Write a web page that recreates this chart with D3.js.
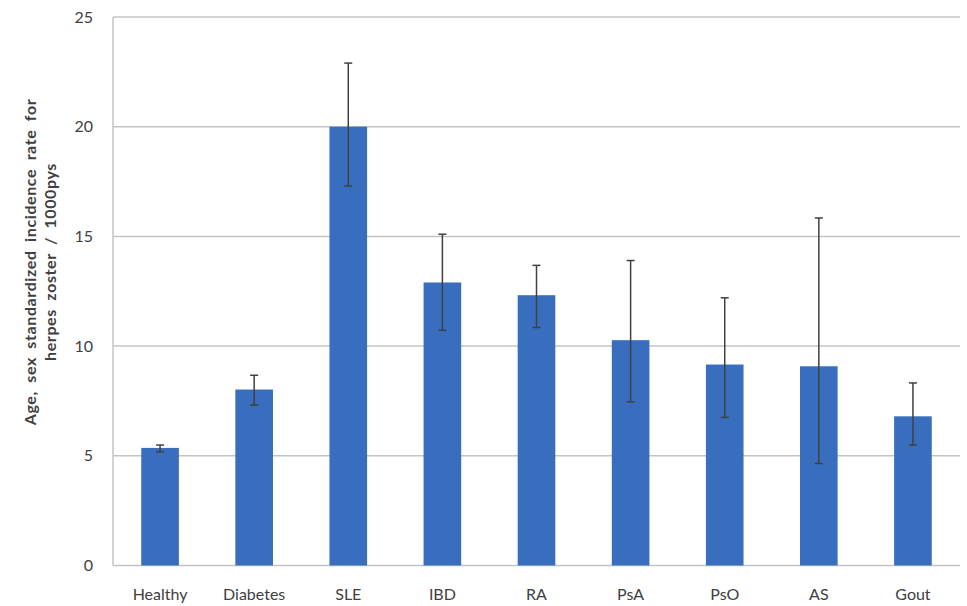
<!DOCTYPE html>
<html>
<head>
<meta charset="utf-8">
<script src="https://cdn.jsdelivr.net/npm/d3@7"></script>
<style>
  body { margin: 0; background: #fff; }
  text { font-family: Lato, "Open Sans", sans-serif; }
</style>
</head>
<body>
<div id="chart"></div>
<script>
var categories = ["Healthy", "Diabetes", "SLE", "IBD", "RA", "PsA", "PsO", "AS", "Gout"];
var rates = [5.36, 8.02, 20.0, 12.9, 12.32, 10.27, 9.16, 9.08, 6.8];
var lower = [5.18, 7.31, 17.3, 10.72, 10.85, 7.46, 6.75, 4.65, 5.49];
var upper = [5.49, 8.67, 22.9, 15.1, 13.68, 13.9, 12.2, 15.84, 8.32];
var yTicks = [0, 5, 10, 15, 20, 25];

var margin = {top: 17, right: 7, bottom: 41, left: 113},
  width = 967 - margin.left - margin.right,
  height = 606 - margin.top - margin.bottom;

var svg = d3.select("#chart")
  .append("svg")
  .attr("width", 967)
  .attr("height", 606)
  .append("g")
  .attr("transform", "translate(" + margin.left + "," + margin.top + ")");

var x = d3.scaleBand()
  .domain(categories)
  .range([0, width])
  .paddingInner(0.6)
  .paddingOuter(0.3);

var y = d3.scaleLinear()
  .domain([0, 25])
  .range([height + 0.5, 0]);

// gridlines
svg.selectAll(".grid")
  .data(yTicks.slice(1))
  .enter()
  .append("line")
  .attr("x1", 0)
  .attr("x2", width)
  .attr("y1", function(d) { return y(d) })
  .attr("y2", function(d) { return y(d) })
  .style("stroke", "#c4c4c4")
  .style("stroke-width", 1.5);

// axis lines
svg.append("line")
  .attr("x1", 0).attr("x2", 0)
  .attr("y1", y(25)).attr("y2", y(0))
  .style("stroke", "#c4c4c4").style("stroke-width", 1.5);
svg.append("line")
  .attr("x1", 0).attr("x2", width)
  .attr("y1", y(0)).attr("y2", y(0))
  .style("stroke", "#c4c4c4").style("stroke-width", 1.5);

// y tick labels
var yAxis = svg.append("g")
  .call(d3.axisLeft(y).tickValues(yTicks).tickSize(0).tickPadding(20));
yAxis.select(".domain").remove();
yAxis.selectAll("text")
  .style("font-size", "16px")
  .style("fill", "#404040")
  .style("font-family", "Lato, 'Open Sans', sans-serif");

// x tick labels
var xAxis = svg.append("g")
  .attr("transform", "translate(0," + y(0) + ")")
  .call(d3.axisBottom(x).tickSize(0).tickPadding(23));
xAxis.select(".domain").remove();
xAxis.selectAll("text")
  .style("font-size", "16px")
  .style("fill", "#404040")
  .style("font-family", "Lato, 'Open Sans', sans-serif");

// bars
var data = categories.map(function(c, i) {
  return {cat: c, rate: rates[i], lo: lower[i], hi: upper[i]};
});

svg.selectAll(".bar")
  .data(data)
  .enter()
  .append("rect")
  .attr("x", function(d) { return x(d.cat) })
  .attr("y", function(d) { return y(d.rate) })
  .attr("width", x.bandwidth())
  .attr("height", function(d) { return y(0) - y(d.rate) })
  .style("fill", "#396ebf");

// error bars
var err = svg.selectAll(".err")
  .data(data)
  .enter()
  .append("g");

err.append("line")
  .attr("x1", function(d) { return x(d.cat) + x.bandwidth() / 2 })
  .attr("x2", function(d) { return x(d.cat) + x.bandwidth() / 2 })
  .attr("y1", function(d) { return y(d.lo) })
  .attr("y2", function(d) { return y(d.hi) })
  .style("stroke", "#404040")
  .style("stroke-width", 1.5);

err.append("line")
  .attr("x1", function(d) { return x(d.cat) + x.bandwidth() / 2 - 4 })
  .attr("x2", function(d) { return x(d.cat) + x.bandwidth() / 2 + 4 })
  .attr("y1", function(d) { return y(d.hi) })
  .attr("y2", function(d) { return y(d.hi) })
  .style("stroke", "#404040")
  .style("stroke-width", 1.5);

err.append("line")
  .attr("x1", function(d) { return x(d.cat) + x.bandwidth() / 2 - 4 })
  .attr("x2", function(d) { return x(d.cat) + x.bandwidth() / 2 + 4 })
  .attr("y1", function(d) { return y(d.lo) })
  .attr("y2", function(d) { return y(d.lo) })
  .style("stroke", "#404040")
  .style("stroke-width", 1.5);

// y axis title
var title = svg.append("text")
  .attr("transform", "translate(" + (-margin.left) + "," + (262 - margin.top) + ") rotate(-90)")
  .attr("text-anchor", "middle")
  .style("font-size", "16px")
  .style("font-weight", "bold")
  .style("word-spacing", "4px")
  .style("letter-spacing", "0.6px")
  .style("fill", "#404040");
title.append("tspan").attr("x", 0).attr("y", 36).text("Age, sex standardized incidence  rate for");
title.append("tspan").attr("x", 0).attr("y", 56).text("herpes zoster / 1000pys");
</script>
</body>
</html>
